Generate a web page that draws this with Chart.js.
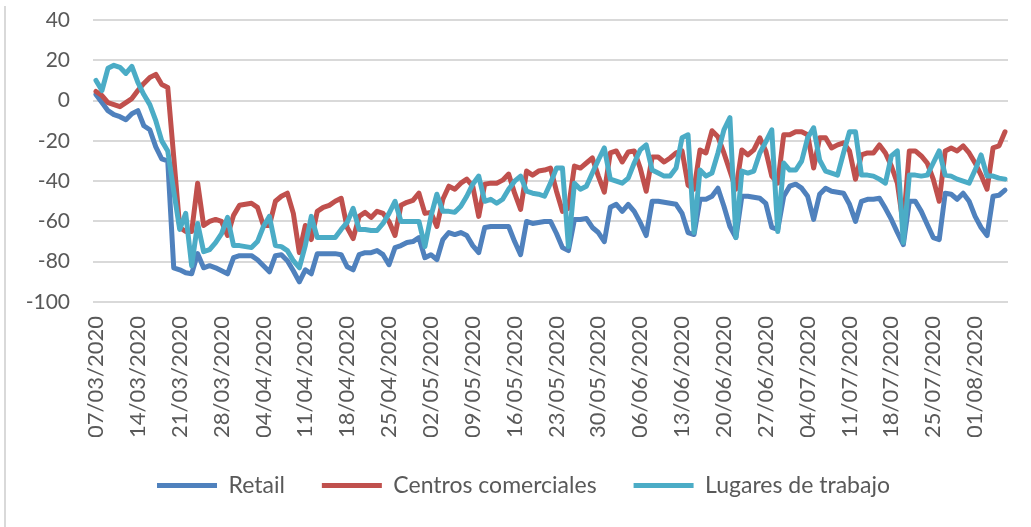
<!DOCTYPE html>
<html>
<head>
<meta charset="utf-8">
<script src="https://cdn.jsdelivr.net/npm/chart.js@4.4.1/dist/chart.umd.min.js"></script>
<style>
  html, body { margin: 0; padding: 0; background: #fff; }
  #wrap { position: relative; width: 1031px; height: 527px; }
  #edge { position: absolute; left: 4px; top: 6px; width: 2px; height: 521px; background: #d9d9d9; }
</style>
</head>
<body>
<div id="wrap">
  <div id="edge"></div>
  <canvas id="chart"></canvas>
</div>
<script>
// first day of the daily series, one label per day
const startDate = [2020, 2, 7];
const seriesNames = ['Retail', 'Centros comerciales', 'Lugares de trabajo'];
const yTicks = [40, 20, 0, -20, -40, -60, -80, -100];

const retail = [
  3, -1, -5, -7, -8, -9.5, -6.5, -5, -12.5, -14.5, -23, -29, -30, -83, -84, -85.5, -86, -76, -83, -82,
  -83, -84.5, -86, -78, -77, -77, -77, -79, -82, -85, -77, -76.5, -79.5, -84.5, -90, -84, -86, -76, -76, -76,
  -76, -76.5, -82.5, -84, -76.5, -75.5, -75.5, -74.5, -76.5, -81.5, -73, -72, -70.5, -70, -68, -78, -76.5, -79, -69, -65.5,
  -66.5, -65.5, -67, -72, -75.5, -63, -62.5, -62.5, -62.5, -62.5, -70, -76.5, -60, -61, -60.5, -60, -60, -66, -73, -74.5,
  -59, -59, -58.5, -63, -65.5, -70, -53, -51.5, -55, -51.5, -55, -60.5, -67, -50, -50, -50.5, -51, -51.5, -56, -65.5,
  -66.5, -49, -49, -47.5, -43.5, -52.5, -62.5, -68, -47.5, -47.5, -48, -48.5, -51, -63, -64, -47.5, -42.5, -41.5, -43.5, -47.5,
  -59, -46.5, -43.5, -45, -45.5, -46, -51.5, -60, -50, -49, -49, -48.5, -53.5, -59, -65.5, -71.5, -50, -50, -55, -61.5,
  -68, -69, -46, -46.5, -49, -46, -50, -57.5, -63, -67, -47.5, -47, -44.5
];

const centros = [
  4.5, 2.5, -1, -2, -3, -1, 1, 5, 8.5, 11.5, 13, 8, 6.5, -28, -63, -65, -65, -41, -62, -60,
  -59, -60, -67, -57, -52, -51.5, -51, -53, -62, -62, -50, -47.5, -46, -56, -75.5, -62, -69, -55, -53, -52,
  -50, -48.5, -63, -68.5, -57.5, -55.5, -58, -55, -56, -60, -67, -52, -50.5, -49.5, -46, -56, -55.5, -62.5, -49, -42.5,
  -44, -41, -39, -42.5, -57.5, -41.5, -41, -41, -39.5, -36.5, -46, -54, -35, -37, -35, -34.5, -33.5, -45, -55, -53.5,
  -32.5, -33.5, -31, -28.5, -37.5, -45.5, -26, -25, -30.5, -25.5, -25, -33.5, -45, -28, -28, -30.5, -28.5, -26, -25, -42,
  -44, -24.5, -26, -15, -18, -26, -35, -44, -24.5, -27, -24.5, -18.5, -25, -37.5, -41, -17, -17, -15.5, -15.5, -17,
  -33.5, -18.5, -18.5, -23.5, -22, -21, -25, -39, -27, -26, -26, -22, -26, -32.5, -41, -62, -25, -25, -27.5, -31,
  -39, -50, -25, -23.5, -25, -22.5, -26, -31, -37, -44, -23.5, -22.5, -15.5
];

const lugares = [
  10, 5, 16, 17.5, 16.5, 13.5, 17, 9, 3, -2, -10, -20, -25, -45, -64, -56, -82, -61, -75, -74,
  -70.5, -66, -58, -72, -72, -72.5, -73, -70, -62.5, -57.5, -72, -72.5, -74.5, -79.5, -83, -72, -57.5, -68, -68, -68,
  -68, -64, -60.5, -53.5, -64, -64, -64.5, -64.5, -61, -56, -50, -60, -60, -60, -60, -72.5, -57.5, -46.5, -55, -55,
  -55.5, -52.5, -47.5, -41.5, -37.5, -50, -49, -51, -49, -44, -40, -37.5, -45, -46, -46.5, -47.5, -41, -33.5, -33.5, -72.5,
  -41, -44, -42.5, -36, -29.5, -23.5, -39, -40, -41, -38.5, -31, -24.5, -22, -34.5, -36, -37.5, -37.5, -33.5, -18.5, -17,
  -65.5, -34.5, -37.5, -36, -26, -14.5, -8.5, -68, -35, -36, -35, -26, -20.5, -14.5, -65, -31, -34.5, -34.5, -30, -18.5,
  -13.5, -29.5, -35, -36, -37, -26, -15.5, -15.5, -37, -37, -37.5, -39, -41, -27.5, -25, -70.5, -37, -37, -37.5, -37,
  -31, -25, -37, -37.5, -39, -40, -41, -34.5, -27, -37.5, -37.5, -38.5, -39
];

const colors = ['#4f81bd', '#c0504d', '#4bacc6'];

function pad(n) { return n < 10 ? '0' + n : '' + n; }
const labels = retail.map(function(_, i) {
  const d = new Date(startDate[0], startDate[1], startDate[2] + i);
  return pad(d.getDate()) + '/' + pad(d.getMonth() + 1) + '/' + d.getFullYear();
});

const font = 'Lato, "Open Sans", sans-serif';
const textColor = '#595959';

new Chart(document.getElementById('chart'), {
  type: 'line',
  data: {
    labels: labels,
    datasets: [retail, centros, lugares].map(function(values, k) {
      return {
        label: seriesNames[k],
        data: values,
        borderColor: colors[k],
        backgroundColor: colors[k],
        borderWidth: 5,
        borderCapStyle: 'round',
        borderJoinStyle: 'round',
        pointRadius: 0,
        tension: 0,
        order: 3 - k
      };
    })
  },
  options: {
    responsive: true,
    maintainAspectRatio: false,
    animation: false,
    layout: { padding: { left: 21, right: 5, top: 20, bottom: 20 } },
    plugins: {
      tooltip: { enabled: false },
      legend: {
        position: 'bottom',
        labels: {
          usePointStyle: true,
          pointStyle: 'line',
          pointStyleWidth: 60,
          padding: 37,
          color: textColor,
          font: { family: font, size: 23 },
          sort: function(a, b) { return a.datasetIndex - b.datasetIndex; }
        }
      }
    },
    scales: {
      x: {
        offset: true,
        grid: { display: false, drawTicks: false },
        border: { display: false },
        afterFit: function(scale) {
          // fixed band for the rotated dates, plot ends at x=1008
          scale.height = 135;
          scale.paddingLeft = 0;
          scale.paddingRight = 23;
        },
        ticks: {
          autoSkip: false,
          maxRotation: 90,
          minRotation: 90,
          padding: 14,
          color: textColor,
          font: { family: font, size: 22 },
          callback: function(val, index) {
            return index % 7 === 0 ? this.getLabelForValue(val) : '';
          }
        }
      },
      y: {
        min: yTicks[yTicks.length - 1],
        max: yTicks[0],
        afterFit: function(scale) {
          scale.width = 72;
          scale.paddingTop = 0;
          scale.paddingBottom = 0;
        },
        grid: { color: '#d9d9d9', lineWidth: 2, drawTicks: false },
        border: { display: false },
        ticks: {
          stepSize: 20,
          padding: 23,
          color: textColor,
          font: { family: font, size: 21 }
        }
      }
    }
  }
});
</script>
</body>
</html>
